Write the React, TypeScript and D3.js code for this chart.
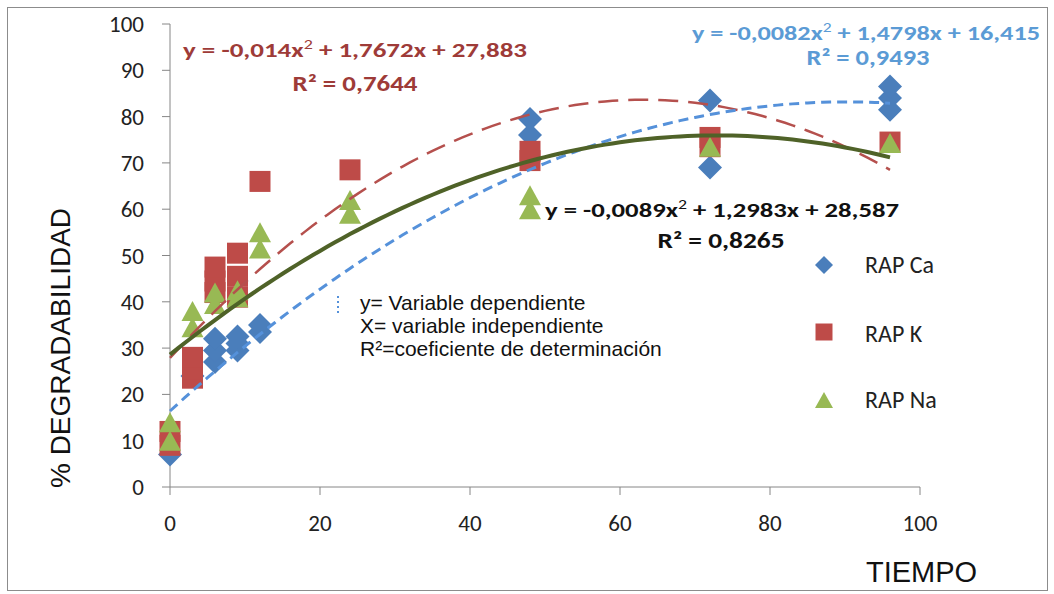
import React from 'react';
import * as d3 from 'd3';

// tiempo (x) y % degradabilidad (y) por serie
const caX = [0, 3, 6, 6, 6, 9, 9, 9, 12, 12, 48, 48, 72, 72, 96, 96, 96];
const caY = [7, 24, 27, 29.5, 32, 29.5, 31, 32.5, 33.5, 35, 76, 79.5, 69, 83.5, 81.5, 84, 86.5];

const kX = [0, 0, 3, 3, 3, 6, 6, 6, 9, 9, 9, 12, 24, 48, 48, 72, 72, 96];
const kY = [9, 12, 23.5, 25.5, 28, 42, 44.5, 47.5, 41, 45.5, 50.5, 66, 68.5, 70.5, 72.5, 73.5, 75.5, 74.5];

const naX = [0, 0, 3, 3, 6, 6, 9, 9, 12, 12, 24, 24, 48, 48, 72, 96];
const naY = [10, 14, 34.5, 38, 39.5, 42, 41, 42.5, 51.5, 55, 59, 62, 60, 63, 73.5, 74.3];

// coeficientes de las líneas de tendencia (a x² + b x + c)
const coefCa = [-0.0082, 1.4798, 16.415];
const coefK = [-0.014, 1.7672, 27.883];
const coefNa = [-0.0089, 1.2983, 28.587];

const xTicks = [0, 20, 40, 60, 80, 100];
const yTicks = [0, 10, 20, 30, 40, 50, 60, 70, 80, 90, 100];
const legendNames = ['RAP Ca', 'RAP K', 'RAP Na'];

const CAL = 'Carlito, Calibri, Lato, sans-serif';
const ARIAL = '"Liberation Sans", Arial, sans-serif';

const diamond = (s: number) => `M0,${-s}L${s},0L0,${s}L${-s},0Z`;
const square = (s: number) => `M${-s},${-s}H${s}V${s}H${-s}Z`;
const triangle = (w: number, h: number) => `M0,${-h / 2}L${w / 2},${h / 2}L${-w / 2},${h / 2}Z`;

function Equation(props: { x: number; y: number; fill: string; a: string; b: string; len: number }) {
  const { x, y, fill, a, b, len } = props;
  return (
    <text x={x} y={y} fill={fill} fontFamily={CAL} fontWeight="bold" fontSize={21}
      textLength={len} lengthAdjust="spacingAndGlyphs">
      {a}
      <tspan dy={-8} fontSize={14} fontWeight="normal">2</tspan>
      <tspan dy={8}>{b}</tspan>
    </text>
  );
}

function R2(props: { cx: number; y: number; fill: string; v: string; len: number }) {
  const { cx, y, fill, v, len } = props;
  return (
    <text x={cx - len / 2} y={y} fill={fill} fontFamily={CAL} fontWeight="bold" fontSize={22}
      textLength={len} lengthAdjust="spacingAndGlyphs">
      {'R² = ' + v}
    </text>
  );
}

export default function App() {
  const x = d3.scaleLinear().domain([0, 100]).range([170, 920]);
  const y = d3.scaleLinear().domain([0, 100]).range([487, 24]);

  const trend = (c: number[]) => {
    const xs = d3.range(0, 96.5, 1);
    return d3.line<number>()
      .x(d => x(d))
      .y(d => y(c[0] * d * d + c[1] * d + c[2]))
      .curve(d3.curveMonotoneX)(xs) as string;
  };

  return (
    <svg width={1054} height={594} style={{ position: 'absolute', left: 0, top: 0, background: '#fff' }}>
      <rect x={7.5} y={7.5} width={1040} height={583} fill="#fff" stroke="#8c8c8c" />

      {/* ejes */}
      <line x1={x(0)} x2={x(0)} y1={y(100)} y2={y(0)} stroke="#868686" />
      <line x1={x(0)} x2={x(100)} y1={y(0)} y2={y(0)} stroke="#868686" />
      {yTicks.map(t => (
        <g key={'y' + t}>
          <line x1={x(0) - 8} x2={x(0)} y1={y(t)} y2={y(t)} stroke="#868686" />
          <text x={144} y={y(t)} dy="0.35em" textAnchor="end" fontFamily={CAL} fontSize={23} fill="#222">{t}</text>
        </g>
      ))}
      {xTicks.map(t => (
        <g key={'x' + t}>
          <line x1={x(t)} x2={x(t)} y1={y(0)} y2={y(0) + 8} stroke="#868686" />
          <text x={x(t)} y={531} textAnchor="middle" fontFamily={CAL} fontSize={23} fill="#222">{t}</text>
        </g>
      ))}

      <text transform="translate(70,348) rotate(-90)" textAnchor="middle" fontFamily={ARIAL} fontSize={28} fill="#111">% DEGRADABILIDAD</text>
      <text x={866} y={582} fontFamily={ARIAL} fontSize={29} fill="#111">TIEMPO</text>

      {/* puntos */}
      {caX.map((d, i) => (
        <path key={'ca' + i} d={diamond(12)} transform={`translate(${x(d)},${y(caY[i])})`} fill="#4A7EBB" />
      ))}
      {kX.map((d, i) => (
        <path key={'k' + i} d={square(10.5)} transform={`translate(${x(d)},${y(kY[i])})`} fill="#BE4B48" />
      ))}
      {naX.map((d, i) => (
        <path key={'na' + i} d={triangle(22, 20)} transform={`translate(${x(d)},${y(naY[i])})`} fill="#98B954" />
      ))}

      {/* tendencias */}
      <path d={trend(coefK)} fill="none" stroke="#B5504D" strokeWidth={2.5} strokeDasharray="20 10" />
      <path d={trend(coefCa)} fill="none" stroke="#5591DA" strokeWidth={3} strokeDasharray="10 6" />
      <path d={trend(coefNa)} fill="none" stroke="#4F6228" strokeWidth={4} />

      {/* ecuaciones */}
      <Equation x={183} y={57} fill="#9E3B38" a="y = -0,014x" b=" + 1,7672x + 27,883" len={344} />
      <R2 cx={355} y={91} fill="#9E3B38" v="0,7644" len={125} />
      <Equation x={692} y={40} fill="#5B9BD5" a="y = -0,0082x" b=" + 1,4798x + 16,415" len={348} />
      <R2 cx={868} y={65} fill="#5B9BD5" v="0,9493" len={123} />
      <Equation x={545} y={217} fill="#111" a="y = -0,0089x" b=" + 1,2983x + 28,587" len={354} />
      <R2 cx={721} y={248} fill="#111" v="0,8265" len={127} />

      {/* nota */}
      <line x1={338} x2={338} y1={296} y2={313} stroke="#5591DA" strokeWidth={2} strokeDasharray="2 3" />
      <g fontFamily={ARIAL} fontSize={21} fill="#111">
        <text x={360} y={310}>y= Variable dependiente</text>
        <text x={360} y={333}>X= variable  independiente</text>
        <text x={360} y={356}>R²=coeficiente de determinación</text>
      </g>

      {/* leyenda */}
      <path d={diamond(9)} transform="translate(824,265)" fill="#4A7EBB" />
      <path d={square(8.5)} transform="translate(824,332)" fill="#BE4B48" />
      <path d={triangle(18, 16)} transform="translate(824,400)" fill="#98B954" />
      {legendNames.map((n, i) => (
        <text key={n} x={865} y={[273, 342, 408][i]} fontFamily={CAL} fontSize={24} fill="#222">{n}</text>
      ))}
    </svg>
  );
}
